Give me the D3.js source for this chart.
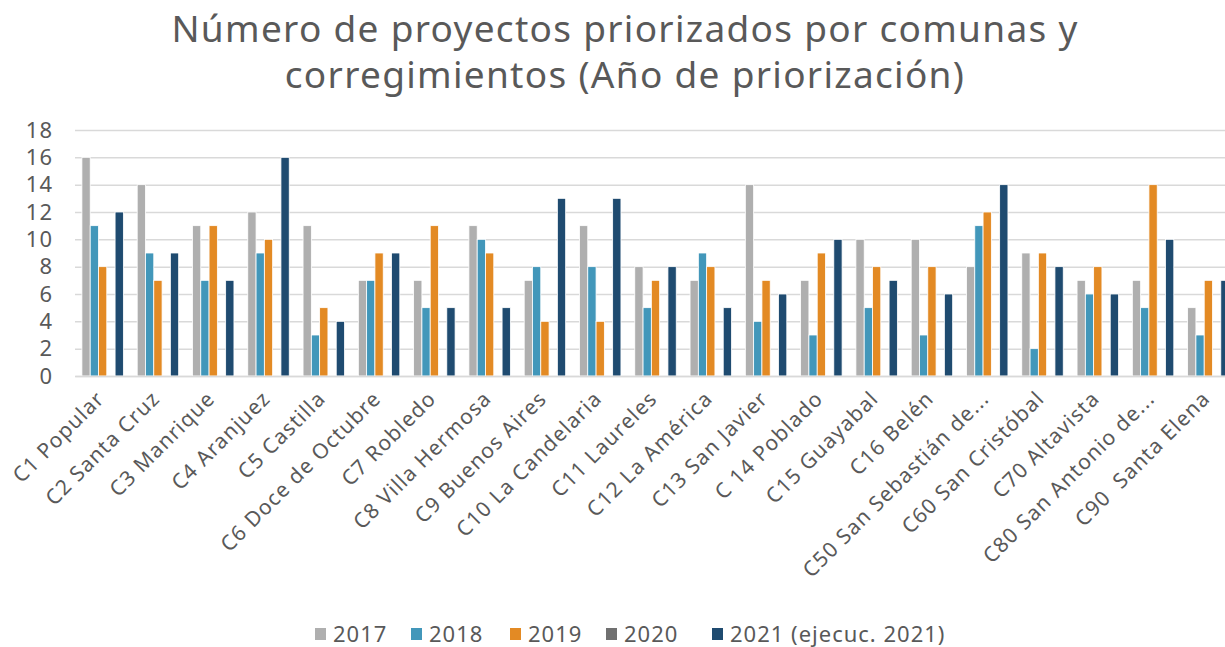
<!DOCTYPE html>
<html>
<head>
<meta charset="utf-8">
<script src="https://cdn.jsdelivr.net/npm/d3@7"></script>
<style>
body{margin:0;background:#fff;overflow:hidden;}
svg{display:block;font-family:"Noto Sans",sans-serif;}
text{white-space:pre;}
</style>
</head>
<body>
<svg id="chart"></svg>
<script>
// comunas y corregimientos
var categories = ["C1 Popular","C2 Santa Cruz","C3 Manrique","C4 Aranjuez","C5 Castilla","C6 Doce de Octubre","C7 Robledo","C8 Villa Hermosa","C9 Buenos Aires","C10 La Candelaria","C11 Laureles","C12 La América","C13 San Javier","C 14 Poblado","C15 Guayabal","C16 Belén","C50 San Sebastián de...","C60 San Cristóbal","C70 Altavista","C80 San Antonio de...","C90  Santa Elena"];
var seriesNames = ["2017","2018","2019","2020","2021 (ejecuc. 2021)"];
var v2017 = [16,14,11,12,11,7,7,11,7,11,8,7,14,7,10,10,8,9,7,7,5];
var v2018 = [11,9,7,9,3,7,5,10,8,8,5,9,4,3,5,3,11,2,6,5,3];
var v2019 = [8,7,11,10,5,9,11,9,4,4,7,8,7,9,8,8,12,9,8,14,7];
var v2020 = [0,0,0,0,0,0,0,0,0,0,0,0,0,0,0,0,0,0,0,0,0];
var v2021 = [12,9,7,16,4,9,5,5,13,13,8,5,6,10,7,6,14,8,6,10,7];
var yTicks = [0,2,4,6,8,10,12,14,16,18];
var colors = ["#AFAFAF","#4297BA","#E38A24","#707070","#1F4B70"];

var allSeries = [v2017,v2018,v2019,v2020,v2021];
var width = 1225, height = 647;
var svg = d3.select("#chart").attr("width",width).attr("height",height);

var x0 = d3.scaleBand().domain(categories).range([75,1236]).paddingInner(0.25).paddingOuter(0.125);
var x1 = d3.scaleBand().domain(d3.range(seriesNames.length)).range([0,x0.bandwidth()]);
var y = d3.scaleLinear().domain([0,18]).range([376,130]);

// title
svg.append("text").attr("x",625).attr("y",42).attr("text-anchor","middle")
	.attr("fill","#595959").style("font-size","37px").style("letter-spacing","1.3px")
	.text("Número de proyectos priorizados por comunas y");
svg.append("text").attr("x",625).attr("y",88).attr("text-anchor","middle")
	.attr("fill","#595959").style("font-size","37px").style("letter-spacing","1.3px")
	.text("corregimientos (Año de priorización)");

// grid + y axis
var yAxis = svg.append("g").attr("transform","translate(75,0)")
	.call(d3.axisLeft(y).tickValues(yTicks).tickSize(-1161).tickPadding(22));
yAxis.select(".domain").remove();
yAxis.selectAll(".tick line").attr("stroke","#d9d9d9").attr("stroke-width",1.5);
yAxis.selectAll(".tick text").attr("fill","#595959").style("font-size","22px")
	.style("letter-spacing","1px").style("font-family","Noto Sans");

// bars
var groups = svg.append("g").selectAll("g").data(categories).join("g")
	.attr("transform",function(d){return "translate("+x0(d)+",0)";});
groups.selectAll("rect").data(function(d,i){
		return allSeries.map(function(s,k){return {k:k,v:s[i]};});
	}).join("rect")
	.attr("x",function(d){return x1(d.k);})
	.attr("y",function(d){return y(d.v);})
	.attr("width",x1.bandwidth())
	.attr("height",function(d){return y(0)-y(d.v);})
	.attr("fill",function(d){return colors[d.k];})
	.attr("stroke","#fff").attr("stroke-width",0.8);

// x axis labels
var xAxis = svg.append("g").attr("transform","translate(0,376)")
	.call(d3.axisBottom(x0).tickSize(0).tickPadding(0));
xAxis.select(".domain").attr("stroke","#d9d9d9").attr("stroke-width",1.5);
xAxis.selectAll(".tick text")
	.attr("fill","#595959").style("font-size","21px").style("letter-spacing","1.1px")
	.style("font-family","Noto Sans")
	.attr("text-anchor","end")
	.attr("dy",0)
	.attr("transform","translate(3,24) rotate(-45)");

// legend
var legX = [315,411,510,606,712];
var legend = svg.append("g").selectAll("g").data(seriesNames).join("g")
	.attr("transform",function(d,i){return "translate("+legX[i]+",634)";});
legend.append("rect").attr("x",0).attr("y",-6).attr("width",11).attr("height",12)
	.attr("fill",function(d,i){return colors[i];});
legend.append("text").attr("x",18).attr("y",8).attr("fill","#595959")
	.style("font-size","22px").style("letter-spacing","1px").text(function(d){return d;});
</script>
</body>
</html>
